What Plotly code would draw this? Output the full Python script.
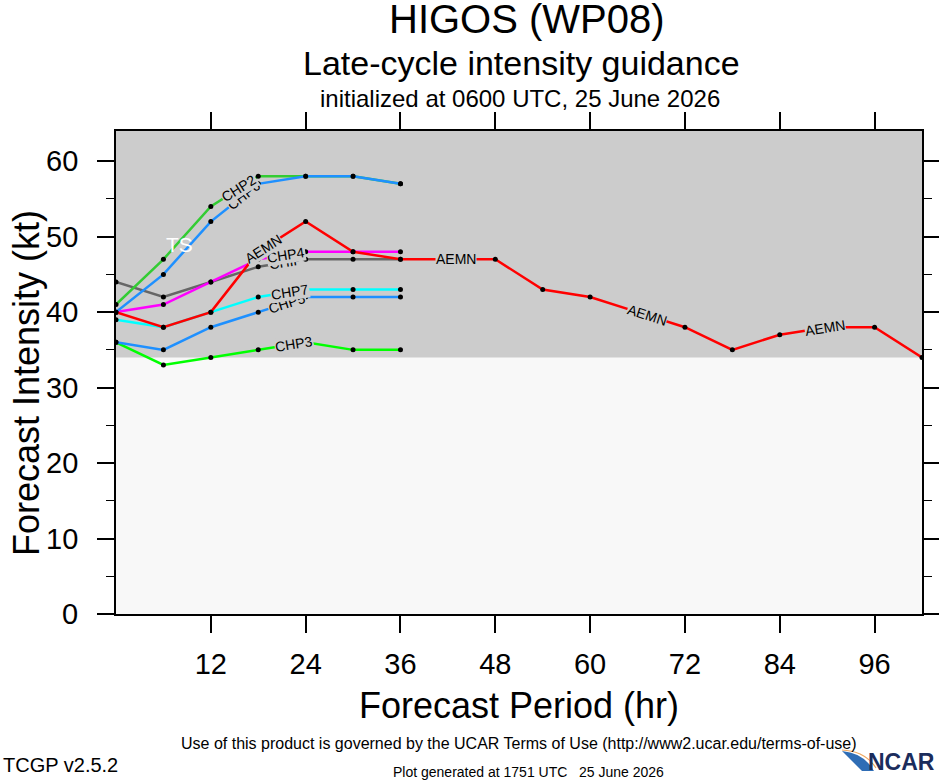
import math
import plotly.graph_objs as go

# forecast hours (every 6 h)
hours = [0, 6, 12, 18, 24, 30, 36, 42, 48, 54, 60, 66, 72, 78, 84, 90, 96, 102]

# intensity guidance (kt), one list per model
chip = [44, 42, 44, 46, 47, 47, 47]
chp2 = [41, 47, 54, 58, 58, 58, 57]
chp3 = [36, 33, 34, 35, 36, 35, 35]
chp4 = [40, 41, 44, 47, 48, 48, 48]
chp5 = [36, 35, 38, 40, 42, 42, 42]
chp6 = [40, 45, 52, 57, 58, 58, 57]
chp7 = [39, 38, 40, 42, 43, 43, 43]
aemn = [40, 38, 40, 48, 52, 48, 47, 47, 47, 43, 42, 40, 38, 35, 37, 38, 38, 34]

xticks = [12, 24, 36, 48, 60, 72, 84, 96]
yticks = [0, 10, 20, 30, 40, 50, 60]
ts_band = [34, 64]   # tropical storm range shaded gray

models = [
    ('CHIP', chip, '#666666'),
    ('CHP2', chp2, '#33cc33'),
    ('CHP3', chp3, '#00ff00'),
    ('CHP4', chp4, '#ff00ff'),
    ('CHP5', chp5, '#1e90ff'),
    ('CHP6', chp6, '#1e90ff'),
    ('CHP7', chp7, '#00ffff'),
    ('AEMN', aemn, '#ff0000'),
]

# where the inline labels sit along each line (forecast hour), in drawing order
label_hours = [
    ('CHP6', [16.2]), ('CHP2', [15.6]), ('CHIP', [21.5]), ('CHP4', [21.5]),
    ('CHP5', [21.7]), ('CHP7', [22.0]), ('CHP3', [22.5]),
    ('AEMN', [18.6, 43.0, 67.2, 89.7]),
]

# plot frame in pixels
W, H = 939, 780
L, R, T, B = 116, 922, 131, 614
XMAX, YMAX = 102, 64
XS = (R - L) / XMAX
YS = (B - T) / YMAX


def px(x):
    return (x - L) / (R - L)


def py(y):
    return (B - y) / (B - T)


def at_hour(vals, h):
    # linear interpolation along the line, plus local slope
    i = min(int(h // 6), len(vals) - 2)
    f = (h - hours[i]) / 6.0
    v = vals[i] + f * (vals[i + 1] - vals[i])
    slope = (vals[i + 1] - vals[i]) / 6.0
    return v, slope


data = []
for name, vals, color in models:
    data.append(go.Scatter(
        x=hours[:len(vals)], y=vals, mode='lines+markers', name=name,
        line=dict(color=color, width=2.5),
        marker=dict(color='black', size=5),
        showlegend=False,
    ))

series = {name: vals for name, vals, color in models}
annotations = []
for name, hrs in label_hours:
    for h in hrs:
        v, s = at_hour(series[name], h)
        ang = -math.degrees(math.atan2(s * YS, XS))
        annotations.append(dict(
            x=h, y=v, xref='x', yref='y', text=name, showarrow=False,
            textangle=ang, font=dict(size=14, color='black'),
            bgcolor='#cccccc', borderpad=0,
        ))

annotations.append(dict(
    x=8, y=sum(ts_band) / 2, xref='x', yref='y', text='TS', showarrow=False,
    font=dict(size=21, color='white'),
))

# y tick labels, placed by hand so they sit well left of the ticks
for v in yticks:
    annotations.append(dict(
        x=px(80), y=v, xref='paper', yref='y', text=str(v), showarrow=False,
        xanchor='right', yanchor='middle', font=dict(size=29, color='black'),
    ))

# titles and footer text
def txt(s, x, y, size, anchor='center', angle=0, color='black'):
    return dict(text=s, x=px(x), y=py(y), xref='paper', yref='paper',
                showarrow=False, xanchor=anchor, yanchor='middle',
                textangle=angle, font=dict(size=size, color=color))


annotations += [
    txt('HIGOS (WP08)', 527, 19, 40),
    txt('Late-cycle intensity guidance', 521, 63, 34),
    txt('initialized at 0600 UTC, 25 June 2026', 520, 98, 24),
    txt('Forecast Period (hr)', 519, 705, 36),
    txt('Forecast Intensity (kt)', 26, 383, 36, angle=-90),
    txt('Use of this product is governed by the UCAR Terms of Use (http://www2.ucar.edu/terms-of-use)',
        519, 743, 16),
    txt('TCGP v2.5.2', 1, 765, 20, anchor='left'),
    txt('Plot generated at 1751 UTC   25 June 2026', 528, 772, 14),
    txt('<b>NCAR</b>', 937, 762, 23, anchor='right', color='#1b2c5c'),
]

shapes = [
    dict(type='rect', xref='paper', yref='y', x0=0, x1=1, y0=ts_band[0], y1=ts_band[1],
         fillcolor='#cccccc', line=dict(width=0), layer='below'),
    # NCAR swoosh
    dict(type='path', xref='paper', yref='paper',
         path='M %f,%f Q %f,%f %f,%f L %f,%f Z' % (
             px(842), py(751), px(864), py(753), px(874), py(771), px(862), py(771)),
         fillcolor='#2f6db5', line=dict(width=0)),
    dict(type='path', xref='paper', yref='paper',
         path='M %f,%f Q %f,%f %f,%f' % (
             px(842), py(750), px(865), py(751), px(876), py(768)),
         line=dict(color='#f0a860', width=1.2)),
]

axis_common = dict(
    showgrid=False, zeroline=False, showline=True, linecolor='black', linewidth=1.5,
    mirror='ticks', ticks='outside', ticklen=17, tickwidth=1.5, tickcolor='black',
    tickfont=dict(size=29, color='black'), automargin=False,
)

layout = go.Layout(
    width=W, height=H,
    margin=dict(l=L, r=W - R, t=T, b=H - B),
    paper_bgcolor='white', plot_bgcolor='#f8f8f8',
    font=dict(family='Liberation Sans, Arial, Helvetica, sans-serif', color='black'),
    xaxis=dict(range=[0, XMAX], tickvals=xticks, ticklabelstandoff=6, **axis_common),
    yaxis=dict(range=[0, YMAX], tickvals=yticks, showticklabels=False,
               minor=dict(dtick=5, ticklen=8, tickwidth=1.2, tickcolor='black', ticks='outside'),
               **axis_common),
    annotations=annotations, shapes=shapes,
)

fig = go.Figure(data=data, layout=layout)
# drop the browser's default page margin so the figure sits at 0,0
fig.write_html('out.html', config={'responsive': False, 'displayModeBar': False},
               post_script="document.body.style.margin='0';document.body.style.overflow='hidden';")
